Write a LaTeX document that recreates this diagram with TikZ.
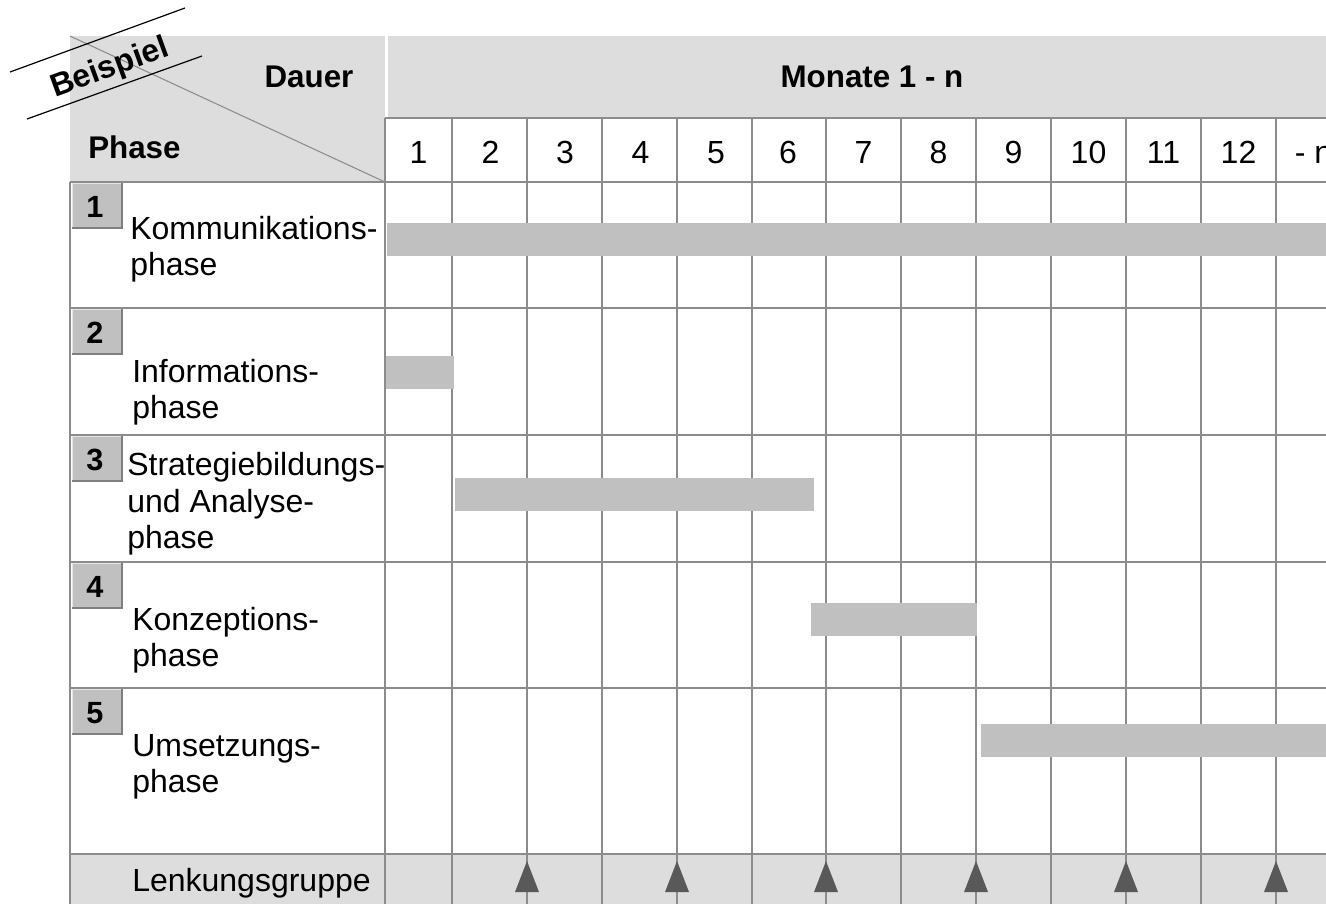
\documentclass[tikz,border=0pt]{standalone}
\usepackage{fontspec}
\setmainfont{Liberation Sans}
\definecolor{hdr}{HTML}{DDDDDD}
\definecolor{gridgray}{HTML}{8C8C8C}
\definecolor{barfill}{HTML}{C0C0C0}
\definecolor{trifill}{HTML}{595959}
\definecolor{boxdark}{HTML}{7F7F7F}
\definecolor{boxlight}{HTML}{E6E6E6}
\begin{document}
\begin{tikzpicture}[x=0.75pt,y=-0.75pt,
  gridline/.style={draw=gridgray, line width=1.1pt},
  diagline/.style={draw=gridgray, line width=0.8pt},
  bar/.style={fill=barfill},
  tri/.style={fill=trifill},
  lbl/.style={inner sep=0pt, anchor=base west, font=\fontsize{24}{28}\selectfont},
  hd/.style={inner sep=0pt, anchor=base, font=\fontsize{23.5}{28}\selectfont\bfseries},
  num/.style={inner sep=0pt, anchor=base, font=\fontsize{24}{28}\selectfont},
  boxnum/.style={inner sep=0pt, anchor=base, font=\fontsize{23}{26}\selectfont\bfseries},
  tag/.style={inner sep=0pt, font=\fontsize{24}{28}\selectfont\bfseries, rotate=20}]
\useasboundingbox (0,0) rectangle (1326,904);
\clip (0,0) rectangle (1326,904);
% header fills
\fill[hdr] (70,36) rectangle (385,182);
\fill[hdr] (388,36) rectangle (1326,118);
% Lenkungsgruppe row fill
\fill[hdr] (70,854) rectangle (1326,904);
% grid
\foreach \x in {452,527,602,677,752,826,901,976,1051,1126,1201,1276}
  \draw[gridline] (\x,118) -- (\x,904);
\draw[gridline] (385,118) -- (385,904);
\draw[gridline] (70,182) -- (70,904);
\draw[gridline] (385,118) -- (1326,118);
\draw[gridline] (70,182) -- (1326,182);
\foreach \y in {308,435,562,688,854}
  \draw[gridline] (70,\y) -- (1326,\y);
% diagonal in corner cell
\draw[diagline] (70,36) -- (385,182);
% bars
\fill[bar] (387,223) rectangle (1326,256);
\fill[bar] (386,356) rectangle (454,389);
\fill[bar] (455,478) rectangle (814,511);
\fill[bar] (811,603) rectangle (977,636);
\fill[bar] (981,724) rectangle (1326,757);
% triangles (Lenkungsgruppe meetings)
\foreach \x in {527,677,826,976,1126,1276}
  \fill[tri] (\x,861) -- (\x+12,892) -- (\x-12,892) -- cycle;
% number boxes
\foreach \t/\n in {182/1,308/2,435/3,562/4,688/5} {
  \fill[barfill] (72,\t+1) rectangle (123,\t+47);
  \draw[boxlight, line width=1.2pt] (72.5,\t+47) -- (72.5,\t+1.5) -- (123,\t+1.5);
  \draw[boxdark, line width=1.5pt] (122,\t+1) -- (122,\t+46) -- (72,\t+46);
  \node[boxnum] (box\n) at (95,\t+35) {\n};
}
% header texts
\node[hd] (dauer) at (309,87) {Dauer};
\node[hd, anchor=base west] (phase) at (88,158) {Phase};
\node[hd] (monate) at (872,87) {Monate 1 - n};
% month numbers
\foreach \c/\m in {418.5/1,490.5/2,565/3,640.5/4,716/5,788/6,863.5/7,938.5/8,1013.5/9,1088.5/10,1163.5/11,1238.5/12,1313.5/- n}
  \node[num] (m\m) at (\c,163) {\m};
% phase labels
\node[lbl] (p1a) at (130,239) {Kommunikations-};
\node[lbl] (p1b) at (130,275) {phase};
\node[lbl] (p2a) at (132,382) {Informations-};
\node[lbl] (p2b) at (132,418) {phase};
\node[lbl] (p3a) at (127,475) {Strategiebildungs-};
\node[lbl] (p3b) at (127,512) {und Analyse-};
\node[lbl] (p3c) at (127,548) {phase};
\node[lbl] (p4a) at (132,630) {Konzeptions-};
\node[lbl] (p4b) at (132,666) {phase};
\node[lbl] (p5a) at (132,756) {Umsetzungs-};
\node[lbl] (p5b) at (132,792) {phase};
\node[lbl] (lenk) at (132,891) {Lenkungsgruppe};
% Beispiel tag
\draw[black, line width=0.9pt] (10,72) -- (185,8);
\draw[black, line width=0.9pt] (27,119) -- (202,56);
\node[tag] (beispiel) at (110,69) {Beispiel};
\end{tikzpicture}
\end{document}
